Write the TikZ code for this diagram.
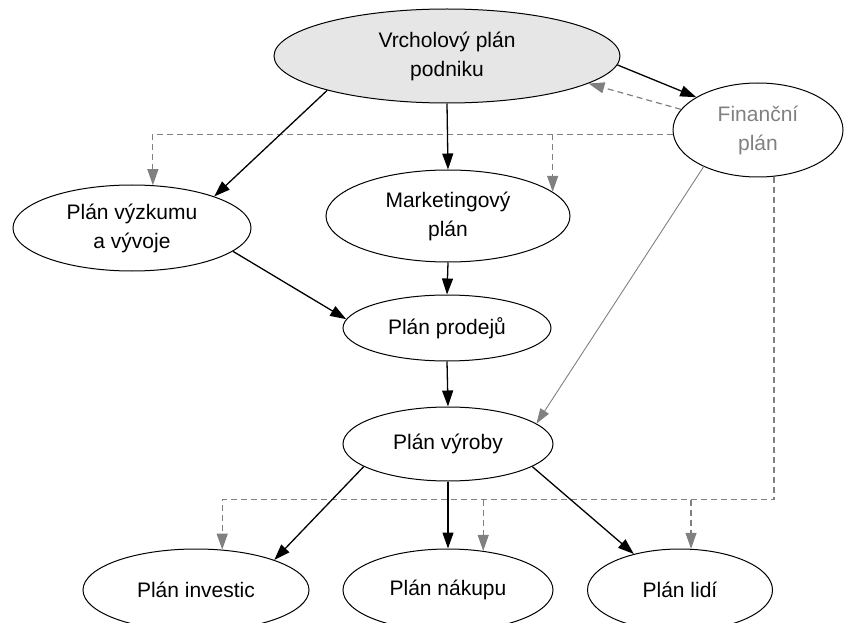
\documentclass[tikz,border=0pt]{standalone}
\usepackage{fontspec}
\setmainfont{Liberation Sans}
\usetikzlibrary{shapes.geometric,arrows.meta}
\definecolor{lgray}{HTML}{E6E6E6}
\definecolor{mgray}{HTML}{808080}
\tikzset{
  plan/.style={ellipse, draw=black, line width=1pt, inner sep=0pt, align=center,
    font=\fontsize{21}{29}\selectfont},
  blk/.style={draw=black, line width=1.3pt, -{Triangle[length=16pt,width=11pt]}},
  gry/.style={draw=mgray, line width=0.9pt, -{Triangle[length=15pt,width=10pt]}},
  dln/.style={draw=mgray, line width=1.2pt, dash pattern=on 6pt off 4pt},
  dar/.style={dln, -{Triangle[length=16pt,width=11pt,fill=mgray]}}
}
\begin{document}
\begin{tikzpicture}[x=1pt,y=-1pt]
\useasboundingbox (0,0) rectangle (844,623);
\clip (0,0) rectangle (844,623);
\node[plan, fill=lgray, minimum width=346pt, minimum height=94pt] (top) at (447,56) {Vrcholový plán\\podniku};
\node[plan, text=mgray, minimum width=170pt, minimum height=94pt] (fin) at (758,130) {Finanční\\plán};
\node[plan, minimum width=238pt, minimum height=86pt] (vyz) at (132,228) {Plán výzkumu\\a vývoje};
\node[plan, minimum width=244pt, minimum height=92pt] (mkt) at (448,216) {Marketingový\\plán};
\node[plan, minimum width=208pt, minimum height=66pt] (prod) at (447,328) {Plán prodejů};
\node[plan, minimum width=210pt, minimum height=74pt] (vyr) at (448,444) {Plán výroby};
\node[plan, minimum width=226pt, minimum height=82pt] (inv) at (196,590) {Plán investic};
\node[plan, minimum width=210pt, minimum height=82pt] (nak) at (448,590) {Plán nákupu};
\node[plan, minimum width=185pt, minimum height=82pt] (lid) at (680,590) {Plán lidí};
% dashed gray connectors
\draw[dar] (fin.165) -- (top.-11);
\draw[dar] (fin.183) -| (vyz.64);
\draw[dar] (fin.183 -| mkt.13) -- (mkt.13);
\draw[dar] (fin.-71) -- ++(0,323) -| (inv.57);
\path (fin.-71) -- ++(0,323) coordinate (hb);
\draw[dar] (hb -| nak.48) -- (nak.48);
\draw[dar] (hb -| lid.75) -- (lid.75);
% solid connectors
\draw[blk] (top.-3) -- (fin.152);
\draw[blk] (top.-164) -- (vyz.21);
\draw[blk] (top.south) -- (mkt.north);
\draw[blk] (vyz.-13) -- (prod.175);
\draw[blk] (mkt.south) -- (prod.north);
\draw[blk] (prod.south) -- (vyr.north);
\draw[gry] (fin.-146) -- (vyr.13);
\draw[blk] (vyr.-165) -- (inv.21);
\draw[blk] (vyr.south) -- (nak.north);
\draw[blk] (vyr.-15) -- (lid.142);
\end{tikzpicture}
\end{document}
